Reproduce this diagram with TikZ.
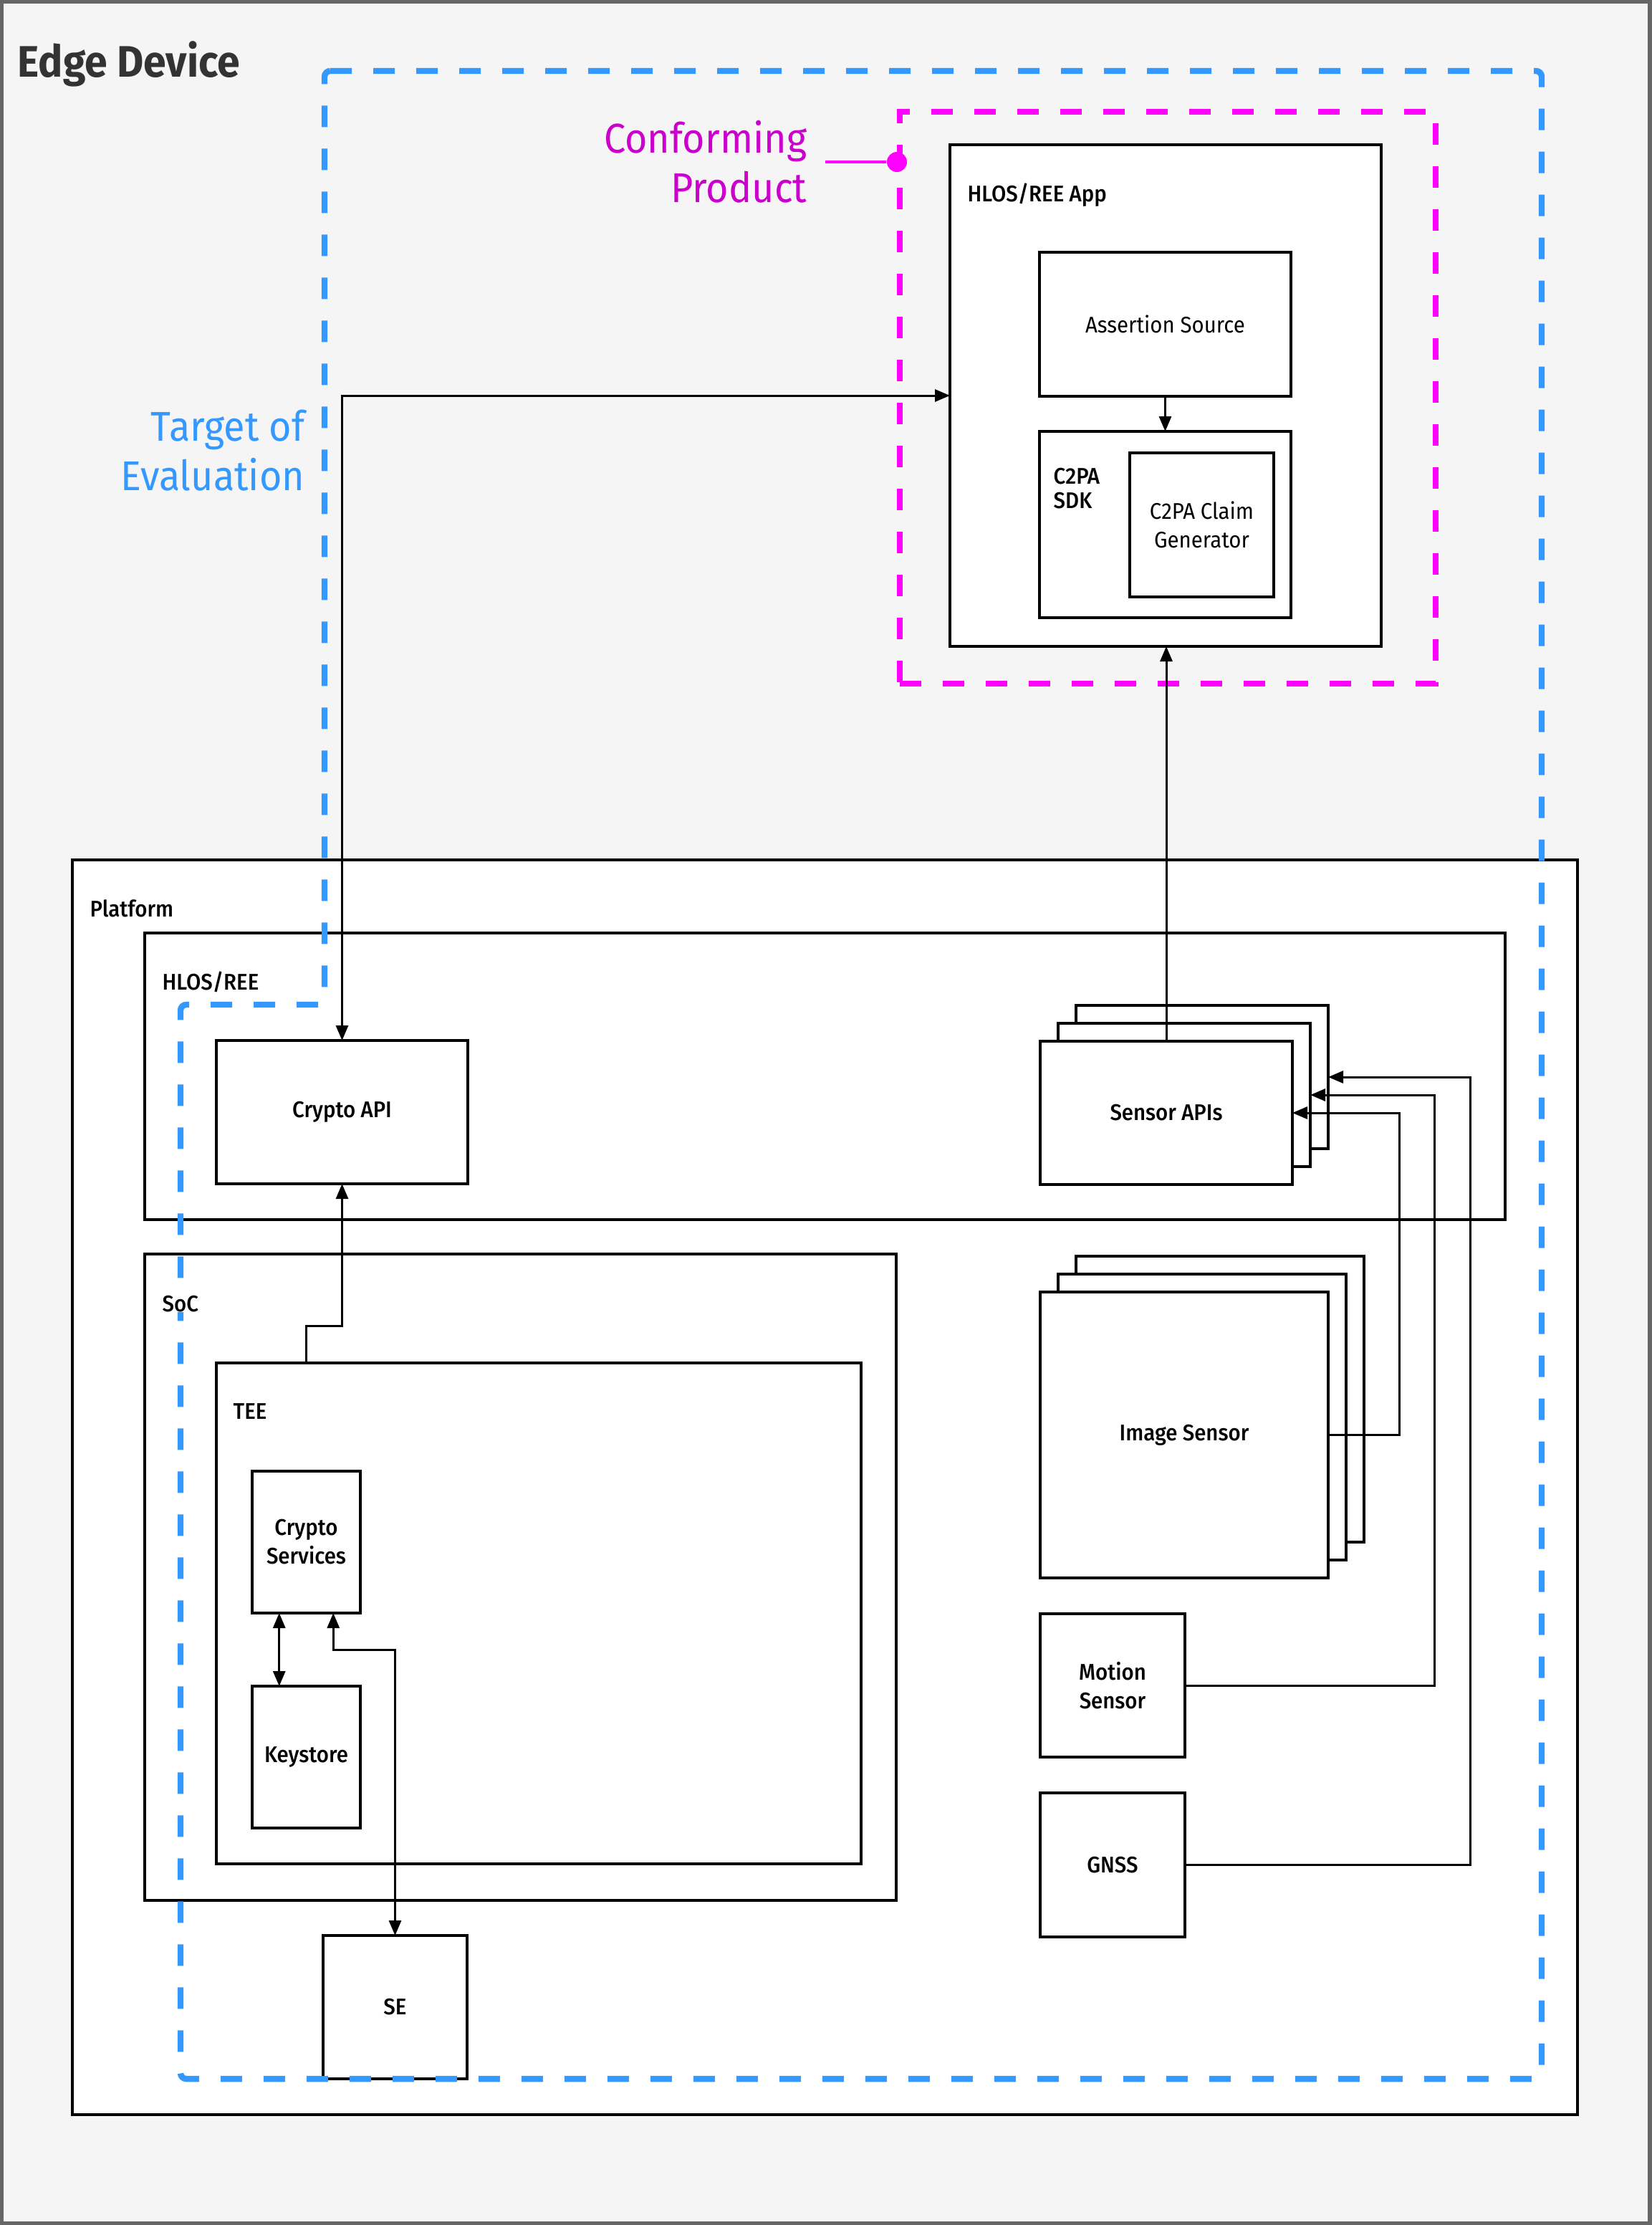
\documentclass[tikz,border=0pt]{standalone}
\usepackage{fontspec}
\setmainfont{Fira Sans}[FakeStretch=0.93]
\newfontfamily\medfont{Fira Sans}[FakeStretch=0.93, UprightFont=* Medium]
\usepackage{tikz}
\usetikzlibrary{arrows.meta, positioning, calc}
\definecolor{toeblue}{RGB}{51,153,255}
\definecolor{cpmag}{RGB}{255,0,255}
\definecolor{cptext}{RGB}{204,0,204}
\definecolor{devbg}{RGB}{245,245,245}
\definecolor{devline}{RGB}{102,102,102}
\definecolor{devtext}{RGB}{51,51,51}
\tikzset{
  box/.style={rectangle, draw=black, fill=white, line width=1.3pt, inner sep=0pt,
    outer sep=0pt, anchor=north west, align=center,
    font=\medfont\fontsize{9}{11.4}\selectfont},
  plainbox/.style={box, font=\fontsize{9}{11.4}\selectfont},
  grplbl/.style={anchor=base west, inner sep=0pt, align=left, fill=white,
    font=\medfont\fontsize{9}{11.4}\selectfont},
  zonelbl/.style={inner sep=0pt, align=right, font=\fontsize{16.5}{19.6}\selectfont},
  toe/.style={draw=toeblue, line width=2.4pt, dash pattern=on 0.3cm off 0.3cm,
    rounded corners=0.08cm},
  cpzone/.style={rectangle, draw=cpmag, line width=2.4pt, inner sep=0pt,
    dash pattern=on 0.3cm off 0.3cm, anchor=north west},
  cpdot/.style={circle, fill=cpmag, minimum size=0.28cm, inner sep=0pt},
  arr/.style={-{Triangle[length=2.1mm, width=1.7mm]}, line width=0.85pt},
  arrboth/.style={{Triangle[length=2.1mm, width=1.7mm]}-{Triangle[length=2.1mm, width=1.7mm]},
    line width=0.85pt},
}

\begin{document}
\begin{tikzpicture}[y=-1cm]
\useasboundingbox (0,0) rectangle (23.05,31.05);

\node[rectangle, draw=devline, fill=devbg, line width=2.6pt, inner sep=0pt, outer sep=0pt,
  anchor=north west, minimum width=23.05cm, minimum height=31.05cm] (dev) at (0,0) {};
\node[anchor=base west, inner sep=0pt, text=devtext, font=\bfseries\fontsize{17.5}{21}\selectfont]
  (devlbl) at (0.24,1.07) {Edge Device};

% Conforming product
\node[cpzone, minimum width=7.48cm, minimum height=7.98cm] (cp) at (12.52,1.52) {};
\node[box, minimum width=6.02cm, minimum height=7cm] (app) at (13.26,2.02) {};
\node[plainbox, minimum width=3.51cm, minimum height=2.01cm] (asrc) at (14.51,3.52) {Assertion Source};
\node[box, minimum width=3.51cm, minimum height=2.6cm] (sdk) at (14.51,6.02) {};
\node[plainbox, minimum width=2.01cm, minimum height=2.01cm] (cgen) at (15.77,6.32) {C2PA Claim\\Generator};

% Platform
\node[box, minimum width=21.01cm, minimum height=17.51cm] (plat) at (1.01,12.00) {};
\node[box, minimum width=18.99cm, minimum height=4cm] (hlos) at (2.02,13.02) {};
\node[box, minimum width=3.51cm, minimum height=2cm] (capi) at (3.02,14.52) {Crypto API};
\foreach \d in {50,25}
  \node[box, minimum width=3.52cm, minimum height=2cm] (api\d) at (14.52+\d/100,14.53-\d/100) {};
\node[box, minimum width=3.52cm, minimum height=2cm] (api) at (14.52,14.53) {Sensor APIs};

\node[box, minimum width=10.49cm, minimum height=9.02cm] (soc) at (2.02,17.50) {};
\node[box, minimum width=9cm, minimum height=6.99cm] (tee) at (3.02,19.02) {};
\node[box, minimum width=1.51cm, minimum height=1.98cm] (csvc) at (3.52,20.53) {Crypto\\Services};
\node[box, minimum width=1.51cm, minimum height=1.98cm] (keys) at (3.52,23.53) {Keystore};
\node[box, minimum width=2.01cm, minimum height=2cm] (se) at (4.51,27.01) {SE};

\foreach \d in {50,25}
  \node[box, minimum width=4.02cm, minimum height=3.99cm] (img\d) at (14.52+\d/100,18.03-\d/100) {};
\node[box, minimum width=4.02cm, minimum height=3.99cm] (img) at (14.52,18.03) {Image Sensor};
\node[box, minimum width=2.02cm, minimum height=2cm] (mot) at (14.52,22.52) {Motion\\Sensor};
\node[box, minimum width=2.02cm, minimum height=2.01cm] (gnss) at (14.52,25.02) {GNSS};

% Target of evaluation
\draw[toe] (4.53,0.99) -- (21.52,0.99) -- (21.52,29.01) -- (2.52,29.01) -- (2.52,14.02)
  -- (4.53,14.02) -- cycle;
\node[zonelbl, text=toeblue, anchor=north east] (toelbl) at (4.26,5.71) {Target of\\Evaluation};

% Group labels
\node[grplbl] (applbl) at ($(app.north west)+(0.24,0.79)$) {HLOS/REE App};
\node[grplbl, anchor=north west, font=\medfont\fontsize{9}{9.7}\selectfont]
  (sdklbl) at (14.70,6.52) {C2PA\\SDK};
\node[grplbl] (platlbl) at ($(plat.north west)+(0.24,0.79)$) {Platform};
\node[grplbl] (hloslbl) at ($(hlos.north west)+(0.24,0.79)$) {HLOS/REE};
\node[grplbl] (soclbl) at ($(soc.north west)+(0.24,0.80)$) {SoC};
\node[grplbl] (teelbl) at ($(tee.north west)+(0.23,0.78)$) {TEE};

% Connectors
\draw[arr] (asrc.south) -- (sdk.north);
\draw[arr] (api.north) -- (api.north |- app.south);
\draw[arrboth] (capi.north) |- (app.west);
\draw[arr] (csvc.center |- tee.north) -- ++(0,-0.52) -| (capi.south);
\draw[arrboth] ($(csvc.south west)!.25!(csvc.south east)$) -- ($(keys.north west)!.25!(keys.north east)$);
\draw[arrboth] ($(csvc.south west)!.75!(csvc.south east)$) -- ++(0,0.51) -| (se.north);
\draw[arr] (img.east) -- ++(0.99,0) |- (api.east);
\draw[arr] (mot.east) -- ++(3.48,0) |- (api25.east);
\draw[arr] (gnss.east) -- ++(3.98,0) |- (api50.east);

\node[cpdot] (cpdot) at (12.52,2.26) {};
\node[zonelbl, text=cptext, anchor=east, inner xsep=0.25cm] (cplbl) at (11.52,2.26) {Conforming\\Product};
\draw[cpmag, line width=1.2pt] (cplbl.east) -- (cpdot);

\end{tikzpicture}
\end{document}
